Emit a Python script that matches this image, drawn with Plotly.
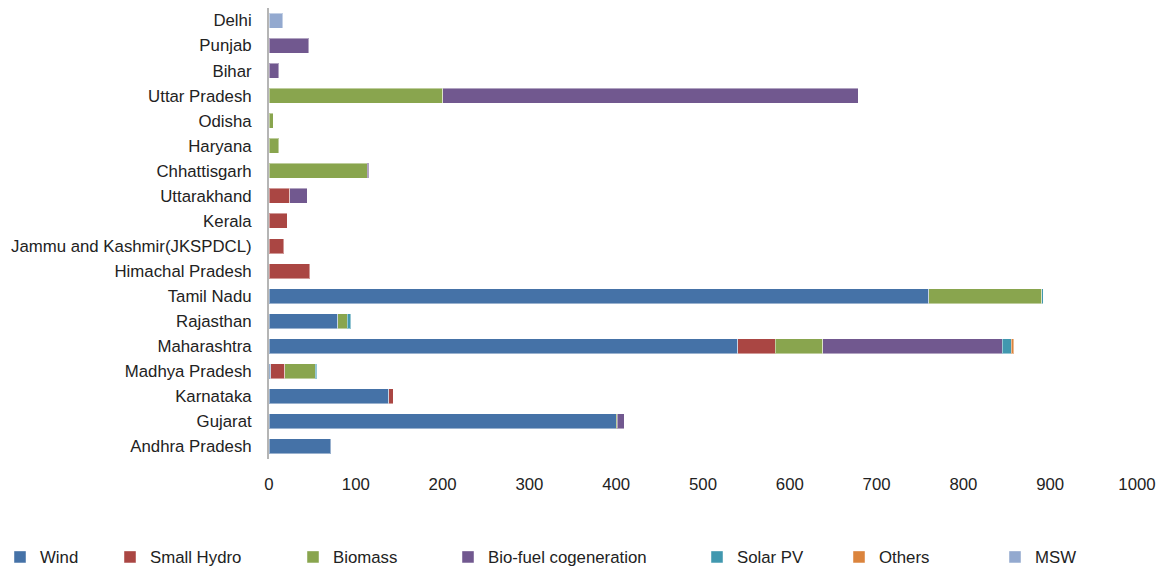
import plotly.graph_objects as go

states = ["Andhra Pradesh", "Gujarat", "Karnataka", "Madhya Pradesh", "Maharashtra",
          "Rajasthan", "Tamil Nadu", "Himachal Pradesh", "Jammu and Kashmir(JKSPDCL)",
          "Kerala", "Uttarakhand", "Chhattisgarh", "Haryana", "Odisha", "Uttar Pradesh",
          "Bihar", "Punjab", "Delhi"]

wind        = [71, 400, 138, 2, 540, 79, 760, 0, 0, 0, 0, 0, 0, 0, 0, 0, 0, 0]
small_hydro = [0, 0, 5, 16, 43, 0, 0, 47, 17, 21, 24, 0, 0, 0, 0, 0, 0, 0]
biomass     = [0, 1, 0, 35, 55, 11, 130, 0, 0, 0, 0, 113, 11, 5, 200, 0, 0, 0]
biofuel     = [0, 8, 0, 0, 207, 0, 0, 0, 0, 0, 20, 2, 0, 0, 479, 11, 46, 0]
solar_pv    = [0, 0, 0, 2, 10, 4, 2, 0, 0, 0, 0, 0, 0, 0, 0, 0, 0, 0]
others      = [0, 0, 0, 0, 3, 0, 0, 0, 0, 0, 0, 0, 0, 0, 0, 0, 0, 0]
msw         = [0, 0, 0, 0, 0, 0, 0, 0, 0, 0, 0, 0, 0, 0, 0, 0, 0, 16]

x_ticks = [0, 100, 200, 300, 400, 500, 600, 700, 800, 900, 1000]

series = [
    ("Wind", wind, "#4572A7"),
    ("Small Hydro", small_hydro, "#AA4643"),
    ("Biomass", biomass, "#89A54E"),
    ("Bio-fuel cogeneration", biofuel, "#71588F"),
    ("Solar PV", solar_pv, "#4198AF"),
    ("Others", others, "#DB843D"),
    ("MSW", msw, "#93A9CF"),
]

# legend text start positions (px)
legend_text_x = [21, 150, 333, 488, 737, 879, 1035]
W, H = 1168, 567
FONT = "Liberation Sans, Arial, sans-serif"
FS = 16.8

fig = go.Figure()
layout_legends = {}
for i, (name, vals, color) in enumerate(series):
    lname = "legend" if i == 0 else f"legend{i+1}"
    fig.add_trace(go.Bar(
        y=states, x=[v if v else None for v in vals], name=name, orientation="h",
        marker=dict(color=color, line=dict(color="rgba(255,255,255,0.45)", width=1)),
        legend=lname,
    ))
    layout_legends[lname] = dict(
        x=(legend_text_x[i] - 40) / W, xref="container", xanchor="left",
        y=1 - 557 / H, yref="container", yanchor="middle",
        orientation="h", font=dict(family=FONT, size=FS, color="#222"),
        bgcolor="rgba(0,0,0,0)", borderwidth=0, itemwidth=30,
    )

fig.update_layout(
    barmode="stack",
    bargap=0.4,
    width=W, height=H,
    margin=dict(l=269, r=31, t=8, b=108),
    paper_bgcolor="white", plot_bgcolor="white",
    font=dict(family=FONT, size=FS, color="#222"),
    showlegend=True,
    xaxis=dict(range=[0, 1000], tickvals=x_ticks, showgrid=False, zeroline=False,
               showline=False, ticks="", ticklabelstandoff=13),
    yaxis=dict(categoryorder="array", categoryarray=states, showgrid=False,
               showline=True, linecolor="#b5b5b5", linewidth=2, ticks="",
               ticklabelstandoff=12, zeroline=False),
    **layout_legends,
)

fig.write_html("out.html")
